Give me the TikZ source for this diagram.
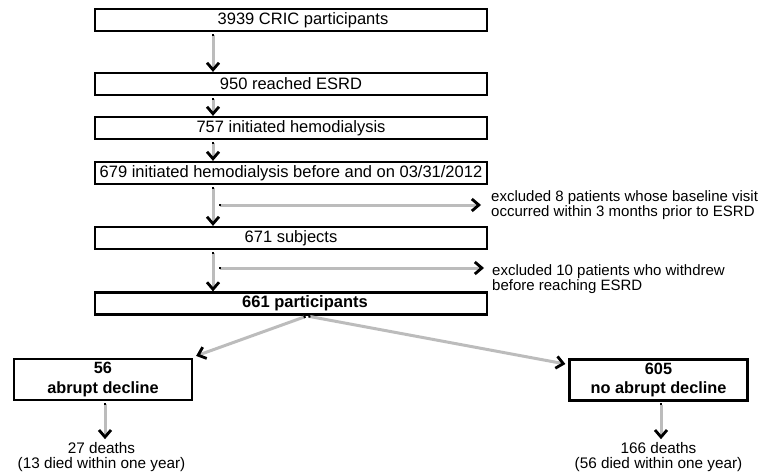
\documentclass[tikz,border=0pt]{standalone}
\usepackage{fontspec}
\setmainfont{Liberation Sans}
\usetikzlibrary{arrows.meta,calc}
\definecolor{linegray}{RGB}{188,188,188}
\begin{document}
\begin{tikzpicture}[x=1pt,y=-1pt,
  box/.style={draw=black,line width=2.2pt,minimum width=392pt,minimum height=22pt,inner sep=0pt,
    font=\fontsize{16.5}{19}\selectfont,align=center},
  boxtext/.style={inner sep=0pt,font=\fontsize{16.5}{19}\selectfont},
  smallbox/.style={box,minimum width=178pt,minimum height=41pt,font=\fontsize{16.3}{19.5}\selectfont\bfseries},
  conn/.style={draw=linegray,line width=3pt,shorten <=1.5pt,
    {Square[black,length=2pt,width=2.4pt]}-{Straight Barb[black,length=7pt,width=12pt,line width=2.8pt]}},
  note/.style={font=\fontsize{15}{13.8}\selectfont,align=left,anchor=west,inner sep=0pt},
  death/.style={font=\fontsize{15.3}{15}\selectfont,align=center,inner sep=0pt}]
\useasboundingbox (0,0) rectangle (763,476);

% main column boxes
\node[box] (b1) at (291,20) {};
\node[boxtext] (b1t) at (303,20) {3939 CRIC participants};
\node[box] (b2) at (291,84) {950 reached ESRD};
\node[box] (b3) at (291,128) {757 initiated hemodialysis};
\node[box] (b4) at (291,173) {679 initiated hemodialysis before and on 03/31/2012};
\node[box] (b5) at (291,238) {671 subjects};
\node[box] (b6) at (291,303.5) {};
\node[boxtext,font=\fontsize{16.5}{19}\selectfont\bfseries] (b6t) at (305,303.5) {661 participants};

% exclusion notes
\node[note] (e1) at (491,205) {excluded 8 patients whose baseline visit\\occurred within 3 months prior to ESRD};
\node[note] (e2) at (492,279.5) {excluded 10 patients who withdrew\\before reaching ESRD};

% lower boxes
\node[smallbox] (b7) at (103,379.5) {56\\abrupt decline};
\node[smallbox] (b8) at (658.5,380) {605\\no abrupt decline};

\node[death] (d7) at (101.5,457) {27 deaths\\(13 died within one year)};
\node[death] (d8) at (658.5,457) {166 deaths\\(56 died within one year)};

% spine coordinates
\coordinate (spine) at (213,0);
\coordinate (s1) at (217,205);
\coordinate (s2) at (217,268);
\coordinate (hub) at (307,316);

% vertical connectors
\draw[conn] (b1.south -| spine) -- (b2.north -| spine);
\draw[conn] (b2.south -| spine) -- (b3.north -| spine);
\draw[conn] (b3.south -| spine) -- (b4.north -| spine);
\draw[conn] (b4.south -| spine) -- (b5.north -| spine);
\draw[conn] (b5.south -| spine) -- (b6.north -| spine);

% exclusion connectors
\draw[conn] (s1) -- ([xshift=-10pt]e1.west |- s1);
\draw[conn] (s2) -- ([xshift=-8pt]e2.west |- s2);

% split connectors
\draw[conn] (hub) -- ([xshift=3pt,yshift=2pt]b7.north east);
\draw[conn] (hub) -- ([xshift=-3pt,yshift=16pt]b8.west);

% deaths connectors
\draw[conn] ([xshift=2pt]b7.south) -- ([xshift=3.5pt,yshift=3pt]d7.north);
\draw[conn] ([xshift=2.5pt]b8.south) -- ([xshift=2.5pt,yshift=3pt]d8.north);
\end{tikzpicture}
\end{document}
